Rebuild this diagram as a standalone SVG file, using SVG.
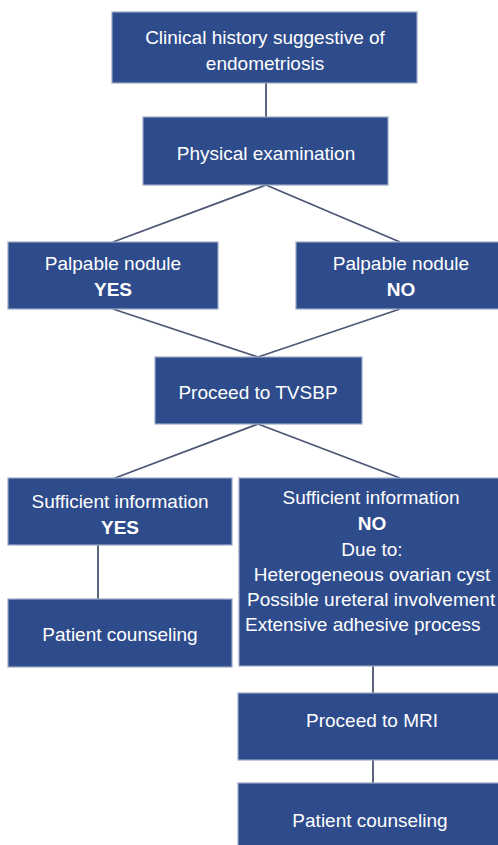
<svg xmlns="http://www.w3.org/2000/svg" width="498" height="845" viewBox="0 0 498 845">
<style>
.box{fill:#2E4B8B;stroke:#9AA8C6;stroke-width:1.2}
.t{font-family:"Liberation Sans","Open Sans",sans-serif;font-size:19px;fill:#FFFFFF;text-anchor:middle}
.b{font-weight:bold}
.s{text-anchor:start}
.c{stroke:#4D5672;stroke-width:1.8;fill:none}
</style>
<rect width="498" height="845" fill="#FFFFFF"/>
<g id="connectors">
<line class="c" x1="266" y1="83" x2="266" y2="117"/>
<line class="c" x1="266" y1="185" x2="113" y2="242"/>
<line class="c" x1="266" y1="185" x2="400" y2="242"/>
<line class="c" x1="113" y1="309" x2="258" y2="357"/>
<line class="c" x1="400" y1="309" x2="258" y2="357"/>
<line class="c" x1="258" y1="424" x2="115" y2="478"/>
<line class="c" x1="258" y1="424" x2="400" y2="478"/>
<line class="c" x1="98" y1="545" x2="98" y2="599"/>
<line class="c" x1="373" y1="666" x2="373" y2="693"/>
<line class="c" x1="373" y1="760" x2="373" y2="783"/>
</g>
<g id="n1"><rect class="box" x="112" y="12" width="305" height="71"/>
<text class="t" x="265" y="44">Clinical history suggestive of</text>
<text class="t" x="265" y="70">endometriosis</text></g>
<g id="n2"><rect class="box" x="143" y="117" width="245" height="68"/>
<text class="t" x="266" y="160">Physical examination</text></g>
<g id="n3"><rect class="box" x="8" y="242" width="210" height="67"/>
<text class="t" x="113" y="270">Palpable nodule</text>
<text class="t b" x="113" y="296">YES</text></g>
<g id="n4"><rect class="box" x="296" y="242" width="204" height="67"/>
<text class="t" x="401" y="270">Palpable nodule</text>
<text class="t b" x="401" y="296">NO</text></g>
<g id="n5"><rect class="box" x="155" y="357" width="207" height="67"/>
<text class="t" x="258" y="399">Proceed to TVSBP</text></g>
<g id="n6"><rect class="box" x="8" y="478" width="224" height="67"/>
<text class="t" x="120" y="508">Sufficient information</text>
<text class="t b" x="120" y="534">YES</text></g>
<g id="n7"><rect class="box" x="8" y="599" width="224" height="68"/>
<text class="t" x="120" y="641">Patient counseling</text></g>
<g id="n8"><rect class="box" x="239" y="478" width="261" height="188"/>
<text class="t" x="371" y="504">Sufficient information</text>
<text class="t b" x="372" y="530">NO</text>
<text class="t" x="372" y="556">Due to:</text>
<text class="t" x="372" y="581">Heterogeneous ovarian cyst</text>
<text class="t s" x="247" y="606">Possible ureteral involvement</text>
<text class="t s" x="245" y="631">Extensive adhesive process</text></g>
<g id="n9"><rect class="box" x="238" y="693" width="262" height="67"/>
<text class="t" x="372" y="727">Proceed to MRI</text></g>
<g id="n10"><rect class="box" x="238" y="783" width="262" height="64"/>
<text class="t" x="370" y="827">Patient counseling</text></g>
</svg>
